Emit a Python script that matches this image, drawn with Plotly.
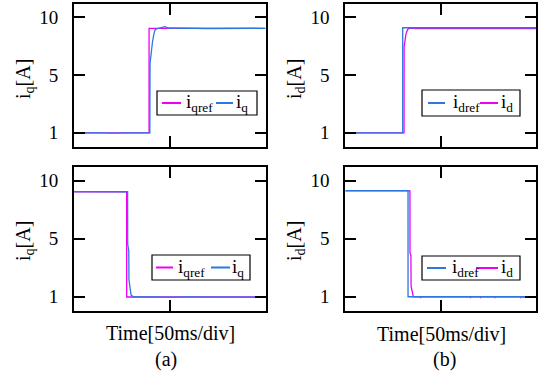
import plotly.graph_objects as go

# ---- data (time in ms over two 50 ms divisions, current in axis units) ----
# (a) upper: q-axis current step up
t_a1_ref = [0, 28.0, 28.3, 28.6, 39.2, 39.2, 100]
v_a1_ref = [1.0, 1.0, 0.95, 1.0, 1.0, 9.14, 9.14]
t_a1_meas = [0, 4, 8, 12, 16, 20, 24, 28, 32, 36, 39.6, 39.7, 40.3, 41.0, 41.7,
             42.4, 44, 46, 47.5, 49, 55, 62, 70, 78, 86, 94, 100]
v_a1_meas = [1.0, 1.01, 0.99, 1.02, 1.0, 0.98, 1.01, 1.0, 0.99, 1.01, 1.0, 6.4,
             7.3, 8.1, 8.7, 9.05, 9.15, 9.2, 9.27, 9.17, 9.14, 9.15, 9.13, 9.15,
             9.14, 9.15, 9.14]

# (a) lower: q-axis current step down
t_a2_ref = [0, 27.5, 27.5, 100]
v_a2_ref = [9.14, 9.14, 0.98, 0.98]
t_a2_meas = [0, 10, 20, 28.0, 28.05, 28.6, 28.7, 29.8, 31, 36, 42, 50, 58, 66,
             74, 82, 90, 96, 100]
v_a2_meas = [9.15, 9.14, 9.15, 9.14, 5.05, 4.6, 2.3, 1.13, 1.0, 0.98, 1.0, 0.97,
             0.99, 0.98, 1.0, 0.97, 0.99, 1.0, 0.97]

# (b) upper: d-axis current step up
t_b1_ref = [0, 30.1, 30.1, 100]
v_b1_ref = [1.0, 1.0, 9.19, 9.19]
t_b1_meas = [0, 8.0, 8.2, 8.4, 30.8, 30.85, 31.3, 31.8, 32.4, 33.0, 35.9, 36.5, 100]
v_b1_meas = [1.0, 1.0, 0.95, 1.0, 1.0, 7.7, 8.3, 8.7, 8.95, 9.12, 9.16, 9.12, 9.12]

# (b) lower: d-axis current step down
t_b2_ref = [0, 32.9, 32.9, 100]
v_b2_ref = [9.22, 9.22, 1.0, 1.0]
t_b2_meas = [0, 33.9, 33.95, 34.4, 34.5, 35.7, 39.4, 39.6, 39.8, 65.6, 65.8, 66.0,
             70.8, 71.0, 71.2, 78.3, 78.5, 78.7, 91.8, 92.0, 92.2, 99.0, 100]
v_b2_meas = [9.2, 9.2, 4.4, 4.2, 1.8, 1.0, 1.0, 0.95, 1.0, 1.0, 0.95, 1.0,
             1.0, 0.95, 1.0, 1.0, 0.95, 1.0, 1.0, 0.95, 1.0, 0.95, 1.0]

y_tick_pos = [1, 5.5, 10]
y_tick_text = ["1", "5", "10"]

MAGENTA = "#f000f0"
BLUE = "#2a78e0"
FONT = '"Liberation Serif", "Times New Roman", Times, serif'
W, H = 538, 377


def px(x):
    return x / W


def py(y):
    return 1 - y / H


fig = go.Figure()

panels = [
    # (x axis, y axis, first trace, second trace)
    ("x", "y", (t_a1_ref, v_a1_ref, MAGENTA), (t_a1_meas, v_a1_meas, BLUE)),
    ("x2", "y2", (t_a2_ref, v_a2_ref, MAGENTA), (t_a2_meas, v_a2_meas, BLUE)),
    ("x3", "y3", (t_b1_meas, v_b1_meas, MAGENTA), (t_b1_ref, v_b1_ref, BLUE)),
    ("x4", "y4", (t_b2_meas, v_b2_meas, MAGENTA), (t_b2_ref, v_b2_ref, BLUE)),
]
for xa, ya, first, second in panels:
    for t, v, c in (first, second):
        fig.add_trace(go.Scatter(x=t, y=v, mode="lines", xaxis=xa, yaxis=ya,
                                 line=dict(color=c, width=1.3), showlegend=False,
                                 hoverinfo="skip"))

common = dict(showline=True, linecolor="black", linewidth=2, mirror="ticks",
              ticks="inside", ticklen=11, tickwidth=1.5, tickcolor="black",
              showgrid=False, zeroline=False)

xdom_a = [px(74), px(265.5)]
xdom_b = [px(345.3), px(536)]
ydom_top = [py(146.7), py(3.5)]
ydom_bot = [py(310.7), py(166.7)]

layout_axes = {}
for i, (xd, yd) in enumerate([(xdom_a, ydom_top), (xdom_a, ydom_bot),
                              (xdom_b, ydom_top), (xdom_b, ydom_bot)], start=1):
    sfx = "" if i == 1 else str(i)
    layout_axes["xaxis" + sfx] = dict(common, domain=xd, range=[0, 100],
                                      tickvals=[50], showticklabels=False,
                                      anchor="y" + sfx)
    layout_axes["yaxis" + sfx] = dict(common, domain=yd, range=[-0.08, 11.08],
                                      tickvals=y_tick_pos, ticktext=y_tick_text,
                                      tickfont=dict(family=FONT, size=19, color="black"),
                                      ticklabelstandoff=10, anchor="x" + sfx)

fig.update_layout(width=W, height=H, margin=dict(l=0, r=0, t=0, b=0),
                  paper_bgcolor="white", plot_bgcolor="white",
                  font=dict(family=FONT, color="black"), **layout_axes)

annotations = []
shapes = []

# axis titles
for x, y, txt in [(24, 79, "i<sub>q</sub>[A]"), (24, 241, "i<sub>q</sub>[A]"),
                  (295, 79, "i<sub>d</sub>[A]"), (295, 241, "i<sub>d</sub>[A]")]:
    annotations.append(dict(x=px(x), y=py(y), xref="paper", yref="paper",
                            text=txt, textangle=-90, showarrow=False,
                            font=dict(family=FONT, size=20, color="black"),
                            xanchor="center", yanchor="middle"))

for x, y, txt in [(170, 333, "Time[50ms/div]"), (441, 334, "Time[50ms/div]"),
                  (166, 359, "(a)"), (444, 359, "(b)")]:
    annotations.append(dict(x=px(x), y=py(y), xref="paper", yref="paper",
                            text=txt, showarrow=False,
                            font=dict(family=FONT, size=20, color="black"),
                            xanchor="center", yanchor="middle"))

# legend boxes: (box x0, x1, y0, y1, entries[(line x0, x1, colour, label x, label)])
legends = [
    (157, 257, 91, 115, [(162, 181, MAGENTA, 184, "i<sub>qref</sub>"),
                         (216, 233, BLUE, 234, "i<sub>q</sub>")]),
    (152, 250, 255, 280, [(156, 173, MAGENTA, 176, "i<sub>qref</sub>"),
                          (211, 230, BLUE, 230, "i<sub>q</sub>")]),
    (422, 520, 90, 116, [(428, 445, BLUE, 451, "i<sub>dref</sub>"),
                         (480, 498, MAGENTA, 499, "i<sub>d</sub>")]),
    (422, 520, 256, 280, [(427, 446, BLUE, 450, "i<sub>dref</sub>"),
                          (476, 498, MAGENTA, 499, "i<sub>d</sub>")]),
]
for bx0, bx1, by0, by1, entries in legends:
    shapes.append(dict(type="rect", xref="paper", yref="paper",
                       x0=px(bx0), x1=px(bx1), y0=py(by1), y1=py(by0),
                       line=dict(color="black", width=1.2), fillcolor="white",
                       layer="above"))
    ymid = (by0 + by1) / 2
    for lx0, lx1, col, tx, label in entries:
        shapes.append(dict(type="line", xref="paper", yref="paper",
                           x0=px(lx0), x1=px(lx1), y0=py(ymid), y1=py(ymid),
                           line=dict(color=col, width=2), layer="above"))
        annotations.append(dict(x=px(tx), y=py(ymid), xref="paper", yref="paper",
                                text=label, showarrow=False,
                                font=dict(family=FONT, size=19, color="black"),
                                xanchor="left", yanchor="middle"))

fig.update_layout(annotations=annotations, shapes=shapes)
fig.write_html("out.html")
